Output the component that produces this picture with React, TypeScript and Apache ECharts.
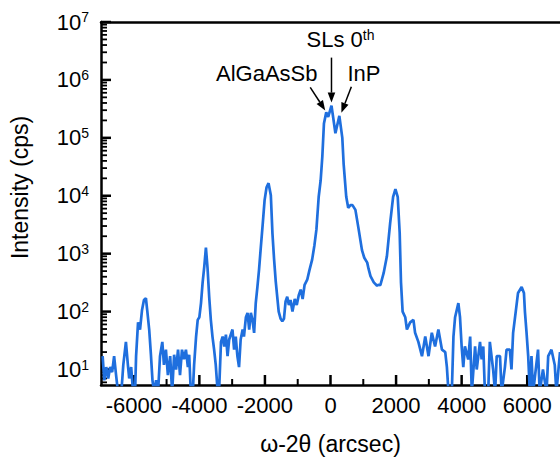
import React, { useEffect, useRef } from 'react';
import * as echarts from 'echarts';

// ω-2θ positions (arcsec) and measured intensities (cps)
const xArcsec = [
  -6950, -6900, -6840, -6780, -6720, -6660, -6600, -6540, -6480, -6380, -6320, -6240, -6180, -6140, -6080, -6020,
  -5960, -5930, -5870, -5810, -5750, -5690, -5630, -5590, -5530, -5480, -5430, -5380, -5320, -5260, -5200, -5130,
  -5080, -5020, -4960, -4890, -4830, -4770, -4710, -4650, -4590, -4530, -4470, -4410, -4350, -4310, -4260, -4200,
  -4160, -4100, -4050, -4000, -3950, -3900, -3850, -3800, -3750, -3700, -3650, -3600, -3550, -3500, -3440, -3400,
  -3340, -3290, -3240, -3190, -3140, -3090, -2990, -2940, -2890, -2840, -2790, -2740, -2680, -2640, -2580, -2530,
  -2480, -2430, -2380, -2330, -2280, -2230, -2180, -2130, -2070, -2010, -1950, -1890, -1820, -1770, -1720, -1670,
  -1580, -1520, -1470, -1420, -1370, -1320, -1270, -1220, -1160, -1090, -1030, -970, -910, -850, -790, -710,
  -640, -560, -490, -430, -360, -300, -250, -200, -130, -70, 30, 150, 270, 360, 400, 480,
  540, 610, 670, 760, 860, 960, 1030, 1120, 1160, 1220, 1320, 1420, 1460, 1520, 1620, 1720,
  1820, 1910, 1980, 2050, 2110, 2150, 2200, 2280, 2330, 2430, 2530, 2580, 2680, 2790, 2890, 2990,
  3090, 3190, 3290, 3400, 3500, 3550, 3600, 3700, 3750, 3800, 3900, 3950, 4000, 4050, 4100, 4200,
  4260, 4310, 4410, 4460, 4560, 4610, 4660, 4710, 4810, 4860, 4960, 5020, 5070, 5170, 5220, 5320,
  5370, 5470, 5520, 5570, 5650, 5720, 5830, 5900, 5930, 5980, 6030, 6080, 6130, 6180, 6330, 6380,
  6480, 6590, 6640, 6740, 6840, 6890, 7000,
];

const intensityCps = [
  17, 6.5, 11, 7, 11, 9, 17, 8, 4, 4, 12, 30, 12, 7, 11, 4,
  4, 17, 65, 49, 105, 158, 170, 105, 49, 19, 6.5, 4, 6.5, 4, 17, 30,
  12, 22, 8, 17, 4, 18, 10, 22, 8, 22, 15, 22, 11, 18, 4, 4,
  12, 37, 72, 80, 140, 320, 600, 1270, 560, 180, 72, 37, 22, 12, 4, 4,
  30, 37, 25, 40, 17, 33, 49, 22, 37, 17, 11, 33, 49, 37, 80, 95,
  49, 95, 72, 43, 140, 265, 525, 1200, 3100, 8400, 14000, 16500, 10200, 2200, 790, 330,
  100, 75, 68, 75, 150, 180, 130, 158, 100, 165, 130, 190, 240, 165, 290, 355,
  525, 790, 1400, 2600, 9600, 18500, 47000, 177000, 275000, 230000, 360000, 120000, 240000, 100000, 36000, 9600,
  6200, 6900, 6900, 5700, 2600, 1150, 850, 700, 550, 410, 320, 280, 290, 285, 460, 900,
  3400, 9600, 13000, 9600, 2300, 320, 100, 80, 49, 65, 72, 43, 30, 17, 37, 17,
  43, 25, 49, 22, 20, 11, 4, 4, 37, 80, 140, 80, 25, 11, 25, 15,
  37, 4, 25, 10, 30, 15, 25, 4, 4, 30, 10, 4, 17, 17, 4, 11,
  22, 22, 10, 43, 100, 210, 265, 210, 100, 43, 17, 4, 17, 4, 22, 4,
  10, 4, 17, 22, 12, 4, 20,
];

const xMajorTicks = [-6000, -4000, -2000, 0, 2000, 4000, 6000];
const xMinorTicks = [-5000, -3000, -1000, 1000, 3000, 5000];
const yMajorTicks = [10, 100, 1000, 10000, 100000, 1000000, 10000000];
const yMinorMultipliers = [2, 3, 4, 5, 6, 7, 8, 9];

const xTitle = 'ω-2θ (arcsec)';
const yTitle = 'Intensity (cps)';

const X_MIN = -7000;
const X_MAX = 7000;
const Y_MIN = 5.4;
const Y_MAX = 10000000;

const FONT = '"Liberation Sans", Arial, Helvetica, sans-serif';
const LINE_COLOR = '#1f6fde';

export default function App() {
  const ref = useRef<HTMLDivElement>(null);

  useEffect(() => {
    document.body.style.margin = '0';
    if (!ref.current) return;
    const chart = echarts.init(ref.current, null, { renderer: 'svg' });

    const yMinor: number[] = [6, 7, 8, 9];
    for (let d = 1; d < 7; d++) {
      for (const m of yMinorMultipliers) yMinor.push(m * Math.pow(10, d));
    }

    const data = xArcsec.map((x, i) => [x, intensityCps[i]]);
    const axisLineStyle = { color: '#000', width: 2.5 };

    const option: any = {
      animation: false,
      grid: { left: 100, top: 22, width: 461, height: 363 },
      xAxis: [
        {
          type: 'value', min: X_MIN, max: X_MAX, position: 'bottom',
          axisLine: { show: true, onZero: false, lineStyle: axisLineStyle },
          axisTick: { show: false },
          axisLabel: {
            customValues: xMajorTicks, color: '#000', fontSize: 22, fontFamily: FONT, margin: 9,
            formatter: (v: number) => String(v),
          },
          splitLine: { show: false },
          name: xTitle, nameLocation: 'middle', nameGap: 47,
          nameTextStyle: { color: '#000', fontSize: 23, fontFamily: FONT },
        },
        {
          type: 'value', min: X_MIN, max: X_MAX, position: 'top',
          axisLine: { show: true, onZero: false, lineStyle: axisLineStyle },
          axisTick: { show: false }, axisLabel: { show: false }, splitLine: { show: false },
        },
      ],
      yAxis: [
        {
          type: 'log', logBase: 10, min: Y_MIN, max: Y_MAX, position: 'left',
          axisLine: { show: true, onZero: false, lineStyle: axisLineStyle },
          axisTick: { show: false },
          axisLabel: {
            customValues: yMajorTicks, margin: 12,
            formatter: (v: number) => `{b|10}{s|${Math.round(Math.log10(v))}}`,
            rich: {
              b: { fontSize: 22, fontFamily: FONT, color: '#000', lineHeight: 24 },
              s: { fontSize: 14, fontFamily: FONT, color: '#000', lineHeight: 14, verticalAlign: 'top' },
            },
          },
          splitLine: { show: false },
          name: yTitle, nameLocation: 'middle', nameGap: 70,
          nameTextStyle: { color: '#000', fontSize: 23, fontFamily: FONT, padding: [0, 0, 0, 32] },
        },
      ],
      series: [
        {
          type: 'line', xAxisIndex: 0, yAxisIndex: 0, data,
          showSymbol: false, symbol: 'none', clip: true,
          lineStyle: { color: LINE_COLOR, width: 2.7 },
        },
      ],
    };
    chart.setOption(option);

    const toPx = (x: number, y: number) =>
      chart.convertToPixel({ xAxisIndex: 0, yAxisIndex: 0 }, [x, y]) as number[];

    const graphic: any[] = [];
    const bottomY = toPx(0, Y_MIN)[1];
    const leftX = toPx(X_MIN, 100)[0];
    const addRect = (x: number, y: number, width: number, height: number) => {
      graphic.push({ type: 'rect', shape: { x, y, width, height }, style: { fill: '#000' } });
    };
    xMajorTicks.forEach((v) => { const px = toPx(v, 100)[0]; addRect(px - 1.25, bottomY - 10, 2.5, 10); });
    xMinorTicks.forEach((v) => { const px = toPx(v, 100)[0]; addRect(px - 1, bottomY - 6, 2, 6); });
    yMajorTicks.forEach((v) => { const py = toPx(0, v)[1]; addRect(leftX, py - 1.25, 10, 2.5); });
    yMinor.forEach((v) => { const py = toPx(0, v)[1]; addRect(leftX, py - 0.9, 6, 1.8); });

    const arrow = (tail: number[], tip: number[]) => {
      const dx = tip[0] - tail[0];
      const dy = tip[1] - tail[1];
      const len = Math.sqrt(dx * dx + dy * dy);
      const ux = dx / len, uy = dy / len;
      const nx = -uy, ny = ux;
      const hl = 10, hw = 3.8;
      const bx = tip[0] - ux * hl, by = tip[1] - uy * hl;
      graphic.push(
        { type: 'line', shape: { x1: tail[0], y1: tail[1], x2: bx, y2: by }, style: { stroke: '#000', lineWidth: 1.5 } },
        { type: 'polygon', shape: { points: [[tip[0], tip[1]], [bx + nx * hw, by + ny * hw], [bx - nx * hw, by - ny * hw]] }, style: { fill: '#000' } },
      );
    };

    const slPeak = toPx(30, 360000);
    const algaPeak = toPx(-130, 275000);
    const inpPeak = toPx(270, 240000);

    const slTip = [slPeak[0], slPeak[1] - 3];
    const algaTip = [algaPeak[0] - 1, algaPeak[1] - 2];
    const inpTip = [inpPeak[0] + 2, inpPeak[1] - 3];

    arrow([slTip[0], slTip[1] - 45], slTip);
    arrow([algaTip[0] - 15, algaTip[1] - 23], algaTip);
    arrow([inpTip[0] + 10, inpTip[1] - 26], inpTip);

    graphic.push(
      {
        type: 'text', x: slPeak[0] + 9, y: slPeak[1] - 66,
        style: {
          text: '{n|SLs 0}{s|th}', align: 'center', verticalAlign: 'middle',
          rich: {
            n: { fontSize: 22, fontFamily: FONT, fill: '#000', lineHeight: 24 },
            s: { fontSize: 14, fontFamily: FONT, fill: '#000', lineHeight: 14, verticalAlign: 'top' },
          },
        },
      },
      {
        type: 'text', x: slPeak[0] - 14, y: slPeak[1] - 32.5,
        style: { text: 'AlGaAsSb', align: 'right', verticalAlign: 'middle', fontSize: 22, fontFamily: FONT, fill: '#000' },
      },
      {
        type: 'text', x: slPeak[0] + 16, y: slPeak[1] - 32.5,
        style: { text: 'InP', align: 'left', verticalAlign: 'middle', fontSize: 22, fontFamily: FONT, fill: '#000' },
      },
    );
    chart.setOption({ graphic });

    return () => chart.dispose();
  }, []);

  return <div ref={ref} style={{ width: 560, height: 461 }} />;
}
